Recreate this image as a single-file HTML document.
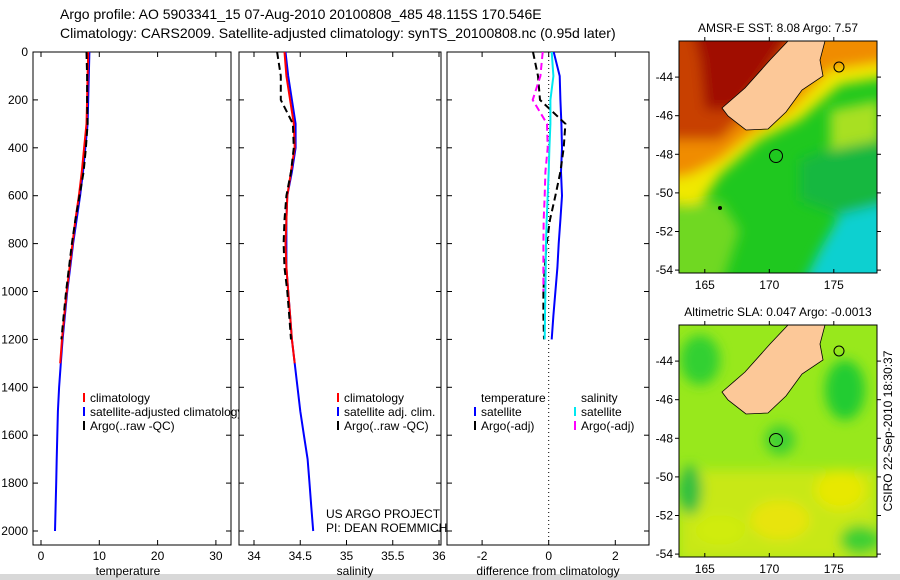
<!DOCTYPE html>
<html><head><meta charset="utf-8">
<style>
html,body{margin:0;padding:0;background:#fff;}
svg{display:block;font-family:"Liberation Sans",sans-serif;}
</style></head>
<body>
<svg id="fig" width="900" height="580" viewBox="0 0 900 580">
<defs>
<filter id="blur" x="-10%" y="-10%" width="120%" height="120%"><feGaussianBlur stdDeviation="6"/></filter>
<clipPath id="clipM1"><rect x="679" y="41" width="198" height="232"/></clipPath>
<clipPath id="clipM2"><rect x="679" y="325" width="198" height="232"/></clipPath>
<clipPath id="clipP1"><rect x="33" y="52" width="206" height="494"/></clipPath>
<clipPath id="clipP2"><rect x="239" y="52" width="202" height="494"/></clipPath>
<clipPath id="clipP3"><rect x="447" y="52" width="202" height="494"/></clipPath>
</defs>
<rect x="0" y="0" width="900" height="580" fill="#fff"/>
<rect x="0" y="574" width="900" height="6" fill="#d8d8d8"/>
<text x="60" y="19" font-size="14">Argo profile: AO 5903341_15 07-Aug-2010 20100808_485 48.115S 170.546E</text>
<text x="60" y="38" font-size="14">Climatology: CARS2009. Satellite-adjusted climatology: synTS_20100808.nc (0.95d later)</text>

<g id="panels"></g>

<!-- Map 1 : SST -->
<g>
<text x="778" y="32" font-size="12" text-anchor="middle">AMSR-E SST: 8.08 Argo: 7.57</text>
<g clip-path="url(#clipM1)">
<rect x="679" y="41" width="198" height="232" fill="#1fc81f"/>
<g filter="url(#blur)">
<polygon points="660,20 900,20 900,75 840,85 800,120 760,140 720,175 700,205 660,205" fill="#f0e800"/>
<polygon points="660,20 900,20 900,60 830,70 790,110 750,135 720,160 690,175 660,180" fill="#f08c00"/>
<polygon points="660,20 810,20 770,80 740,120 720,140 690,140 660,140" fill="#c84000"/>
<polygon points="690,20 800,20 760,80 735,110 705,110 700,60" fill="#a01000"/>
<polygon points="840,215 900,190 900,290 800,290 820,250" fill="#10d0d0"/>
<polygon points="800,160 880,130 900,200 840,215 800,200" fill="#18b840"/>
<polygon points="830,110 880,100 880,140 830,150" fill="#a8e020"/>
<polygon points="660,210 720,200 740,230 720,290 660,290" fill="#70d820"/>
</g>
<polygon points="788,41 825,41 820,60 823,76 802,90 786,112 768,129 746,130 728,116 722,108 745,88 770,60" fill="#fcc898" stroke="#000" stroke-width="0.8"/>
<circle cx="776" cy="156" r="6.5" fill="none" stroke="#000" stroke-width="1"/>
<circle cx="839" cy="67" r="5" fill="none" stroke="#000" stroke-width="1"/>
<circle cx="720" cy="208" r="2" fill="#000"/>
</g>
<rect x="679" y="41" width="198" height="232" fill="none" stroke="#000" stroke-width="1"/>
</g>

<!-- Map 2 : SLA -->
<g>
<text x="778" y="316" font-size="12" text-anchor="middle">Altimetric SLA: 0.047 Argo: -0.0013</text>
<g clip-path="url(#clipM2)">
<rect x="679" y="325" width="198" height="232" fill="#98e81c"/>
<g filter="url(#blur)">
<rect x="679" y="470" width="198" height="90" fill="#c8e818"/>
<ellipse cx="700" cy="360" rx="20" ry="25" fill="#30d030"/>
<ellipse cx="845" cy="390" rx="20" ry="30" fill="#20cc30"/>
<ellipse cx="780" cy="440" rx="15" ry="15" fill="#40d030"/>
<ellipse cx="690" cy="490" rx="12" ry="25" fill="#30c040"/>
<ellipse cx="840" cy="490" rx="25" ry="20" fill="#e8e800"/>
<ellipse cx="780" cy="520" rx="30" ry="20" fill="#e8e410"/>
<ellipse cx="720" cy="530" rx="25" ry="15" fill="#d0ec10"/>
<ellipse cx="860" cy="540" rx="20" ry="15" fill="#40d030"/>
</g>
<polygon points="788,325 825,325 820,344 823,360 802,374 786,396 768,413 746,414 728,400 722,392 745,372 770,344" fill="#fcc898" stroke="#000" stroke-width="0.8"/>
<circle cx="776" cy="440" r="6.5" fill="none" stroke="#000" stroke-width="1"/>
<circle cx="839" cy="351" r="5" fill="none" stroke="#000" stroke-width="1"/>
</g>
<rect x="679" y="325" width="198" height="232" fill="none" stroke="#000" stroke-width="1"/>
<text transform="translate(892,431) rotate(-90)" font-size="12" text-anchor="middle">CSIRO 22-Sep-2010 18:30:37</text>
</g>
<g id="mapaxes"></g>
</svg>

<script>
// ---------- data ----------
const depths = [0, 100, 200, 300, 400, 500, 600, 700, 800, 900, 1000, 1100, 1200, 1300, 1400, 1500, 1600, 1700, 1800, 1900, 2000];
const tempClim = [8.1, 8.0, 7.9, 7.8, 7.4, 7.0, 6.5, 5.9, 5.4, 4.9, 4.4, 4.0, 3.6, 3.3];
const tempSat  = [8.3, 8.2, 8.1, 8.0, 7.6, 7.2, 6.7, 6.1, 5.5, 5.0, 4.5, 4.1, 3.7, 3.4, 3.1, 2.9, 2.8, 2.7, 2.6, 2.5, 2.4];
const tempArgo = [7.8, 7.9, 7.9, 8.0, 7.7, 7.3, 6.6, 5.9, 5.3, 4.8, 4.3, 3.9, 3.5];
const salClim  = [34.33, 34.35, 34.39, 34.43, 34.44, 34.40, 34.36, 34.35, 34.34, 34.35, 34.37, 34.39, 34.41, 34.44];
const salSat   = [34.34, 34.37, 34.41, 34.45, 34.45, 34.41, 34.36, 34.35, 34.35, 34.35, 34.37, 34.39, 34.41, 34.44, 34.47, 34.50, 34.54, 34.58, 34.60, 34.62, 34.64];
const salArgo  = [34.25, 34.29, 34.29, 34.42, 34.43, 34.40, 34.35, 34.33, 34.32, 34.33, 34.36, 34.38, 34.40];
const dTempSat  = [0.15, 0.33, 0.35, 0.38, 0.40, 0.37, 0.40, 0.35, 0.30, 0.26, 0.20, 0.14, 0.09];
const dTempArgo = [-0.47, -0.32, -0.26, 0.50, 0.45, 0.35, 0.20, 0.04, -0.06, -0.12, -0.16, -0.16, -0.14];
const dSalSat   = [0.09, 0.14, 0.05, 0.05, 0.02, 0.00, -0.03, -0.06, -0.08, -0.09, -0.10, -0.11, -0.12];
const dSalArgo  = [-0.18, -0.25, -0.48, -0.05, -0.03, -0.10, -0.12, -0.15, -0.16, -0.16, -0.16];
const depthTicks = [0, 200, 400, 600, 800, 1000, 1200, 1400, 1600, 1800, 2000];
const tempTicks = [0, 10, 20, 30];
const salTicks = [34, 34.5, 35, 35.5, 36];
const diffTicks = [-2, 0, 2];
const lonTicks = [165, 170, 175];
const latTicks = [-44, -46, -48, -50, -52, -54];

// ---------- axes ----------
const NS = 'http://www.w3.org/2000/svg';
const yD = d => 52 + d * 0.2395;
const xT = v => 41 + v * 5.83;
const xS = v => 254 + (v - 34) * 92.5;
const xDf = v => 548.7 + v * 33.3;
const lonX = v => 679 + (v - 163) * 12.9;
const latY = (v, off) => off + 41 + (-42.13 - v) * 19.3;

function mk(tag, attrs, parent) {
  const e = document.createElementNS(NS, tag);
  for (const k in attrs) e.setAttribute(k, attrs[k]);
  parent.appendChild(e);
  return e;
}
const root = document.getElementById('panels');

function panel(x0, x1, name, ticks, xf, label, labelX) {
  const g = mk('g', {}, root);
  
  
  const r = mk('rect', {x: x0, y: 52, width: x1 - x0, height: 493, fill: 'none', stroke: '#000', 'stroke-width': 1}, g);
  
  
  ticks.forEach(t => {
    const x = xf(t);
    mk('line', {x1: x, x2: x, y1: 545, y2: 540, stroke: '#000'}, g);
    mk('line', {x1: x, x2: x, y1: 52, y2: 57, stroke: '#000'}, g);
    const tx = mk('text', {x: x, y: 560, 'font-size': 12, 'text-anchor': 'middle'}, g);
    tx.textContent = t;
    
    
  });
  depthTicks.forEach(d => {
    mk('line', {x1: x0, x2: x0 + 5, y1: yD(d), y2: yD(d), stroke: '#000'}, g);
    mk('line', {x1: x1, x2: x1 - 5, y1: yD(d), y2: yD(d), stroke: '#000'}, g);
  });
  const lt = mk('text', {x: labelX, y: 575, 'font-size': 12, 'text-anchor': 'middle'}, g);
  lt.textContent = label;
  
  
  return g;
}
function series(g, vals, xf, color, dash, width, name, clip) {
  const pts = vals.map((v, i) => xf(v).toFixed(1) + ',' + yD(depths[i]).toFixed(1)).join(' ');
  const p = mk('polyline', {points: pts, fill: 'none', stroke: color, 'stroke-width': width, 'clip-path': clip}, g);
  if (dash) p.setAttribute('stroke-dasharray', dash);
  
  
}
function legend(g, x, y, color, text, name) {
  mk('rect', {x: x, y: y - 9, width: 2, height: 9, fill: color}, g);
  const t = mk('text', {x: x + 7, y: y, 'font-size': 12}, g);
  t.textContent = text;
  
  
}

depthTicks.forEach(d => {
  const t = mk('text', {x: 28, y: yD(d) + 4, 'font-size': 12, 'text-anchor': 'end'}, root);
  t.textContent = d;
  
  
});

// panel 1
const g1 = panel(33, 231, 'temperature-panel', tempTicks, xT, 'temperature', 128);
series(g1, tempSat, xT, '#0000ff', null, 2, 'temp-satellite-line', 'url(#clipP1)');
series(g1, tempClim, xT, '#ff0000', null, 2, 'temp-climatology-line', 'url(#clipP1)');
series(g1, tempArgo, xT, '#000', '7,4', 2, 'temp-argo-line', 'url(#clipP1)');
const lg1 = mk('g', {'clip-path': 'url(#clipP1)'}, g1);
legend(lg1, 83, 402, '#ff0000', 'climatology', 'legend-climatology');
legend(lg1, 83, 416, '#0000ff', 'satellite-adjusted climatology', 'legend-satellite-adjusted');
legend(lg1, 83, 430, '#000', 'Argo(..raw -QC)', 'legend-argo');

// panel 2
const g2 = panel(239, 441, 'salinity-panel', salTicks, xS, 'salinity', 355);
series(g2, salSat, xS, '#0000ff', null, 2, 'sal-satellite-line', 'url(#clipP2)');
series(g2, salClim, xS, '#ff0000', null, 2, 'sal-climatology-line', 'url(#clipP2)');
series(g2, salArgo, xS, '#000', '7,4', 2, 'sal-argo-line', 'url(#clipP2)');
legend(g2, 337, 402, '#ff0000', 'climatology', 'legend-climatology');
legend(g2, 337, 416, '#0000ff', 'satellite adj. clim.', 'legend-satellite-adj');
legend(g2, 337, 430, '#000', 'Argo(..raw -QC)', 'legend-argo');
const c1 = mk('text', {x: 326, y: 518, 'font-size': 12}, g2);
c1.textContent = 'US ARGO PROJECT';


const c2 = mk('text', {x: 326, y: 532, 'font-size': 12}, g2);
c2.textContent = 'PI: DEAN ROEMMICH';



// panel 3
const g3 = panel(447, 649, 'difference-panel', diffTicks, xDf, 'difference from climatology', 548);
mk('line', {x1: xDf(0), x2: xDf(0), y1: 52, y2: 545, stroke: '#000', 'stroke-dasharray': '1,3'}, g3);
series(g3, dTempSat, xDf, '#0000ff', null, 2, 'diff-temp-satellite-line', 'url(#clipP3)');
series(g3, dTempArgo, xDf, '#000', '7,4', 2, 'diff-temp-argo-line', 'url(#clipP3)');
series(g3, dSalSat, xDf, '#00e8f0', null, 2, 'diff-sal-satellite-line', 'url(#clipP3)');
series(g3, dSalArgo, xDf, '#ff00ff', '7,4', 2, 'diff-sal-argo-line', 'url(#clipP3)');
const h1 = mk('text', {x: 481, y: 402, 'font-size': 12}, g3);
h1.textContent = 'temperature';


const h2 = mk('text', {x: 581, y: 402, 'font-size': 12}, g3);
h2.textContent = 'salinity';


legend(g3, 474, 416, '#0000ff', 'satellite', 'legend-temp-satellite');
legend(g3, 474, 430, '#000', 'Argo(-adj)', 'legend-temp-argo');
legend(g3, 574, 416, '#00e8f0', 'satellite', 'legend-sal-satellite');
legend(g3, 574, 430, '#ff00ff', 'Argo(-adj)', 'legend-sal-argo');

// map axes
const ma = document.getElementById('mapaxes');
[0, 284].forEach(off => {
  lonTicks.forEach(v => {
    const x = lonX(v);
    mk('line', {x1: x, x2: x, y1: off + 273, y2: off + 269, stroke: '#000'}, ma);
    mk('line', {x1: x, x2: x, y1: off + 41, y2: off + 37, stroke: '#000'}, ma);
    const t = mk('text', {x: x, y: off + 289, 'font-size': 12, 'text-anchor': 'middle'}, ma);
    t.textContent = v;
    
    
  });
  latTicks.forEach(v => {
    const y = latY(v, off);
    mk('line', {x1: 675, x2: 679, y1: y, y2: y, stroke: '#000'}, ma);
    mk('line', {x1: 877, x2: 881, y1: y, y2: y, stroke: '#000'}, ma);
    const t = mk('text', {x: 673, y: y + 4, 'font-size': 12, 'text-anchor': 'end'}, ma);
    t.textContent = v;
    
    
  });
});
</script>
</body></html>
